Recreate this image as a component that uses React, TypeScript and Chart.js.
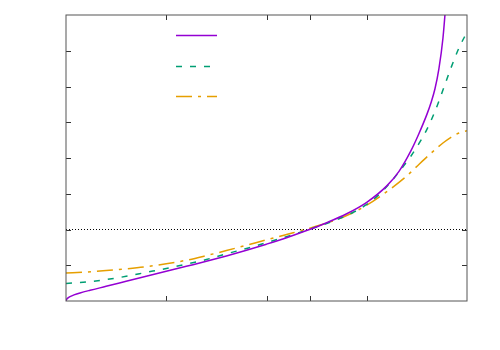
import React, { useEffect, useRef } from "react";
import { Chart, registerables } from "chart.js";

Chart.register(...registerables);

// Series values (x in 0..1, y in 0..8)
const purpleX = [0, 0.0005, 0.0015, 0.003, 0.006, 0.01, 0.02, 0.035, 0.06, 0.1, 0.15, 0.2, 0.25, 0.3, 0.35, 0.4, 0.45, 0.5, 0.55, 0.6, 0.65, 0.7, 0.75, 0.8, 0.83, 0.86, 0.88, 0.9, 0.91, 0.92, 0.93, 0.94, 0.947, 0.953];
const purpleY = [0, 0.025, 0.045, 0.066, 0.095, 0.122, 0.17, 0.225, 0.3, 0.41, 0.55, 0.69, 0.83, 0.97, 1.11, 1.26, 1.42, 1.59, 1.77, 1.97, 2.19, 2.44, 2.76, 3.22, 3.62, 4.2, 4.68, 5.22, 5.54, 5.93, 6.5, 7.35, 8.3, 9.3];

const greenX = [0, 0.05, 0.1, 0.15, 0.2, 0.25, 0.3, 0.35, 0.4, 0.45, 0.5, 0.55, 0.6, 0.65, 0.7, 0.75, 0.78, 0.81, 0.84, 0.86, 0.88, 0.9, 0.92, 0.94, 0.96, 0.98, 1.0];
const greenY = [0.49, 0.53, 0.6, 0.69, 0.8, 0.91, 1.03, 1.16, 1.32, 1.47, 1.63, 1.8, 1.98, 2.17, 2.39, 2.7, 2.97, 3.33, 3.75, 4.05, 4.4, 4.8, 5.3, 5.9, 6.52, 7.08, 7.52];

const orangeX = [0, 0.05, 0.1, 0.15, 0.2, 0.25, 0.3, 0.35, 0.4, 0.45, 0.5, 0.55, 0.6, 0.65, 0.7, 0.75, 0.8, 0.85, 0.88, 0.91, 0.94, 0.96, 0.98, 1.0];
const orangeY = [0.78, 0.81, 0.85, 0.9, 0.96, 1.04, 1.14, 1.27, 1.41, 1.56, 1.71, 1.86, 2.01, 2.18, 2.39, 2.68, 3.06, 3.5, 3.82, 4.13, 4.42, 4.58, 4.7, 4.76];

// Axis settings
const xMin = 0;
const xMax = 1;
const yMin = 0;
const yMax = 8;
const xTicks = [0.25, 0.5, 0.608, 0.75];
const yTicks = [1, 2, 3, 4, 5, 6, 7];
const refLineY = 2;

const pts = (xs: number[], ys: number[]) => xs.map((x, i) => ({ x, y: ys[i] }));

const framePlugin = {
  id: "gnuframe",
  afterDatasetsDraw(chart: any) {
    const { ctx, chartArea: a, scales } = chart;
    const xs = scales.x;
    const ys = scales.y;
    const tl = 5;
    ctx.save();
    ctx.strokeStyle = "#333";
    ctx.lineWidth = 1;
    ctx.setLineDash([]);
    ctx.beginPath();
    for (const t of xTicks) {
      const px = Math.round(xs.getPixelForValue(t)) + 0.5;
      ctx.moveTo(px, a.bottom);
      ctx.lineTo(px, a.bottom - tl);
      ctx.moveTo(px, a.top);
      ctx.lineTo(px, a.top + tl);
    }
    for (const t of yTicks) {
      const py = Math.round(ys.getPixelForValue(t)) + 0.5;
      ctx.moveTo(a.left, py);
      ctx.lineTo(a.left + tl, py);
      ctx.moveTo(a.right, py);
      ctx.lineTo(a.right - tl, py);
    }
    ctx.stroke();
    ctx.strokeStyle = "#555";
    ctx.strokeRect(a.left, a.top, a.right - a.left, a.bottom - a.top);

    // key samples (no text in reference)
    const datasets = chart.data.datasets.slice(0, 3);
    datasets.forEach((ds: any, i: number) => {
      const y = Math.round(a.top + 20 + i * 30.5) + 0.5;
      ctx.strokeStyle = ds.borderColor;
      ctx.lineWidth = ds.borderWidth;
      ctx.setLineDash(ds.borderDash || []);
      ctx.beginPath();
      ctx.moveTo(a.left + 110, y);
      ctx.lineTo(a.left + 151, y);
      ctx.stroke();
    });
    ctx.restore();
  },
};

export default function App() {
  const ref = useRef<HTMLCanvasElement | null>(null);
  useEffect(() => {
    if (!ref.current) return;
    const chart = new Chart(ref.current, {
      type: "line",
      data: {
        datasets: [
          {
            data: pts(purpleX, purpleY),
            borderColor: "#9400d3",
            borderWidth: 1.5,
            pointRadius: 0,
            cubicInterpolationMode: "monotone",
            fill: false,
          },
          {
            data: pts(greenX, greenY),
            borderColor: "#009e73",
            borderWidth: 1.5,
            borderDash: [6, 8],
            pointRadius: 0,
            cubicInterpolationMode: "monotone",
            fill: false,
          },
          {
            data: pts(orangeX, orangeY),
            borderColor: "#e69f00",
            borderWidth: 1.5,
            borderDash: [16, 6, 3, 6],
            pointRadius: 0,
            cubicInterpolationMode: "monotone",
            fill: false,
          },
          {
            data: [
              { x: xMin, y: refLineY },
              { x: xMax, y: refLineY },
            ],
            borderColor: "#000",
            borderWidth: 1,
            borderDash: [1, 2],
            pointRadius: 0,
            fill: false,
          },
        ],
      },
      options: {
        animation: false,
        responsive: false,
        maintainAspectRatio: false,
        layout: { padding: { left: 66, right: 33, top: 15, bottom: 49 } },
        plugins: { legend: { display: false }, tooltip: { enabled: false } },
        scales: {
          x: { type: "linear", min: xMin, max: xMax, display: false },
          y: { type: "linear", min: yMin, max: yMax, display: false },
        },
      },
      plugins: [framePlugin],
    });
    return () => chart.destroy();
  }, []);
  return (
    <div style={{ position: "absolute", left: 0, top: 0, width: 500, height: 350, background: "#fff" }}>
      <canvas ref={ref} width={500} height={350} />
    </div>
  );
}
